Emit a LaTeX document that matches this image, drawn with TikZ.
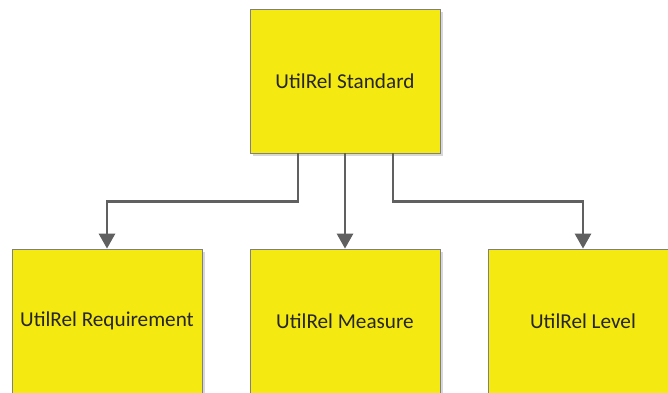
\documentclass[tikz,border=0pt]{standalone}
\usepackage{fontspec}
\setmainfont{Carlito}
\usetikzlibrary{arrows.meta,shadows}
\definecolor{boxyellow}{RGB}{245,233,18}
\definecolor{boxedge}{RGB}{128,128,128}
\definecolor{linkgray}{RGB}{96,96,96}
\definecolor{shadowgray}{RGB}{215,215,215}
\definecolor{textdark}{RGB}{38,38,38}
\begin{document}
\begin{tikzpicture}[x=1pt,y=-1pt,
  box/.style={draw=boxedge, line width=0.8pt, fill=boxyellow,
    minimum width=190pt, minimum height=144pt, inner sep=0pt,
    font=\fontsize{21.2}{25}\selectfont, text=textdark,
    drop shadow={shadow xshift=3pt, shadow yshift=-3pt, fill=shadowgray, opacity=1}},
  link/.style={draw=linkgray, line width=2.8pt,
    -{Triangle[width=16pt,length=15pt]}}]
  \fill[white] (0,0) rectangle (668,392);
  \useasboundingbox (0,0) rectangle (668,392);
  \clip (0,0) rectangle (668,392);
  % boxes
  \node[box] (top) at (345,81) {UtilRel Standard};
  \node[box] (req) at (107,321) {UtilRel Requirement};
  \node[box] (mea) at (345,321) {UtilRel Measure};
  \node[box] (lev) at (583,321) {UtilRel Level};
  % connectors
  \draw[link] ([xshift=-47pt]top.south) -- ++(0,48) -| (req.north);
  \draw[link] (top.south) -- (mea.north);
  \draw[link] ([xshift=48pt]top.south) -- ++(0,48) -| (lev.north);
\end{tikzpicture}
\end{document}
